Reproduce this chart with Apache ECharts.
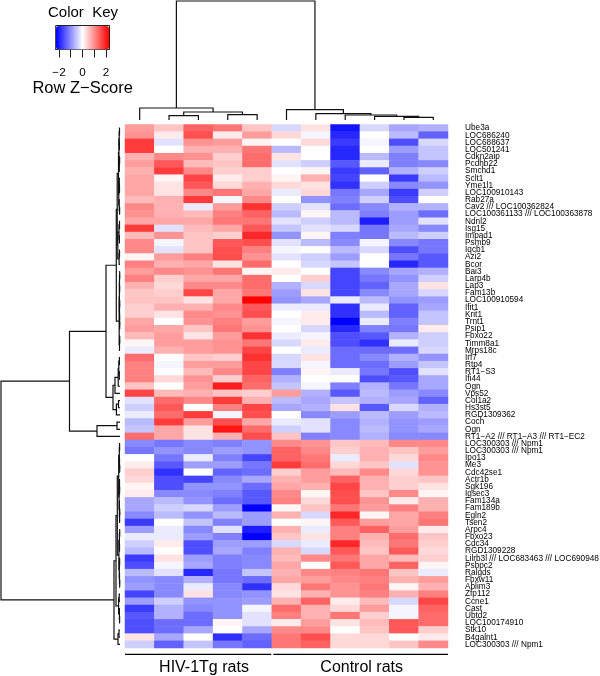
<!DOCTYPE html>
<html><head><meta charset="utf-8">
<style>html,body{margin:0;padding:0;background:#fff}#c{width:600px;height:676px}</style>
<script src="https://cdn.jsdelivr.net/npm/echarts@6/dist/echarts.min.js"></script>
</head><body><div id="c"></div>
<script>
const sampleLabels = ['S1','S2','S3','S4','S5','S6','S7','S8','S9','S10','S11'];
const geneLabels = ['Ube3a','LOC686240','LOC688637','LOC501241','Cdkn2aip','Pcdhb22','Smchd1','Sclt1','Yme1l1','LOC100910143','Rab27a','Cav2 /// LOC100362824','LOC100361133 /// LOC100363878','Ndnl2','Isg15','Impad1','Psmb9','Iqcb1','Azi2','Bcor','Bai3','Larp4b','Lap3','Fam13b','LOC100910594','Ifit1','Krit1','Trnt1','Psip1','Fbxo22','Timm8a1','Mrps18c','Irf7','Rtp4','RT1\u2212S3','Ifi44','Ogn','Vps52','Col1a2','Hs3st5','RGD1309362','Coch','Ogn','RT1\u2212A2 /// RT1\u2212A3 /// RT1\u2212EC2','LOC300303 /// Npm1','LOC300303 /// Npm1','Ipo13','Me3','Cdc42se1','Actr1b','Sgk196','Igsec3','Fam134a','Fam189b','Egln2','Tsen2','Arpc4','Fbxo23','Cdc34','RGD1309228','Lilrb3l /// LOC683463 /// LOC690948','Psbpc2','Ralgds','Fbxw11','Ablim3','Zfp112','Ccne1','Cast','Ubtd2','LOC100174910','Stk10','B4galnt1','LOC300303 /// Npm1'];
const zScores = [
[1.0,0.6,1.6,1.4,0.6,-0.4,0.3,-2.4,-0.4,-0.9,-0.8],
[1.1,0.2,1.8,0.2,1.0,0.4,-0.1,-2.2,0,-0.7,-1.6],
[2.0,-0.3,1.1,1.0,0.1,0,0.4,-2.0,-0.1,-1.8,-0.4],
[2.0,0,0.8,0.8,1.4,-0.7,0,-2.2,0,-1.0,-0.6],
[0.8,1.2,1.1,0.5,1.5,0.3,0,-2.2,-0.7,-1.3,-0.6],
[1.0,1.7,0.7,0.6,1.5,-0.3,-0.5,-1.7,-0.2,-1.3,-1.2],
[0.8,2.0,1.2,0.5,0.5,0,0.1,-2.0,-1.6,-0.8,-0.5],
[0.9,0.1,1.9,0.2,0.5,0.1,0.8,-1.9,0,-2.0,-0.7],
[0.9,0.3,1.7,0.4,0.8,0.4,0.3,-2.1,-0.5,-1.2,-1.1],
[0.9,0.3,1.2,1.4,0.9,-0.2,0.4,-1.4,-0.9,-2.0,-0.5],
[0.7,0.8,2.0,-0.1,1.2,0,-1.1,-1.3,-0.5,-1.8,0],
[1.2,0.8,-0.2,1.0,2.1,-0.5,-0.3,-1.5,-1.2,-0.8,-0.8],
[1.1,0.8,0.7,1.3,1.6,-0.7,0.1,-0.7,-1.3,-1.0,-1.5],
[0.9,0.9,0.9,1.4,1.4,-0.3,-0.5,-0.7,-2.3,-1.0,-0.3],
[2.0,-0.3,0.7,0.9,1.7,-0.6,-0.3,-0.4,-1.4,-0.9,-1.2],
[0.7,1.1,0.6,0.5,2.2,-1.1,0.1,-1.3,-1.4,-0.7,-0.5],
[1.2,-0.1,0.6,1.7,1.8,-0.3,-0.7,-1.2,-0.1,-1.2,-1.4],
[1.2,-0.3,0.6,1.8,1.3,-0.1,0,-0.7,-0.4,-1.8,-1.4],
[0.1,1.0,1.3,1.8,1.1,-0.3,-0.5,-1.0,0,-1.4,-1.7],
[1.3,0.8,0.9,0.3,1.5,0,-0.4,-0.6,0,-2.2,-1.7],
[1.0,1.2,1.1,1.4,0.1,0.2,0,-1.9,-1.2,-0.9,-0.8],
[1.3,0.5,0.9,0.9,1.5,0,0.5,-1.9,-1.4,-1.1,-0.5],
[0.8,0.4,1.2,1.2,1.5,-0.8,-0.4,-1.9,-1.6,-0.9,0.3],
[0.6,0.5,1.9,0.9,1.4,-1.0,0.3,-1.9,-1.2,-0.9,-0.4],
[0.6,0.6,0.3,0.9,2.6,-1.1,-0.9,-0.2,-0.7,-1.1,-1.0],
[0.5,0.8,0.8,1.2,1.7,-0.2,-0.2,-2.1,-0.2,-1.6,-0.9],
[0.5,0.3,1.2,1.1,1.8,0,0.2,-2.1,-0.7,-1.6,-0.6],
[0.9,0,1.1,1.3,1.0,-0.1,0.2,-2.6,-0.2,-1.3,-0.6],
[1.0,0.9,0.6,1.4,1.1,0,-0.4,-2.2,-1.3,-1.4,0.2],
[0.7,1.0,0.3,1.0,2.1,-0.2,-0.1,-1.8,-1.7,-0.8,-0.5],
[0.1,1.0,1.0,1.1,1.4,-0.4,0.2,-1.8,-2.1,-0.2,-0.5],
[-0.2,0.8,1.0,1.1,1.9,0,-0.2,-1.5,-1.5,-1.5,-0.4],
[1.5,0,0.6,0.5,2.1,-0.4,0.3,-1.5,-1.2,-0.8,-1.1],
[1.3,-0.1,1.0,1.0,1.9,-0.4,-0.1,-1.5,-1.5,-1.0,-0.6],
[1.3,0,0.7,1.2,1.9,-1.3,0.1,-0.2,-1.4,-1.8,-0.3],
[1.3,0.4,1.1,0.5,1.6,-0.8,0,0,-1.8,-1.7,-0.9],
[0.6,0,1.0,2.3,1.5,-0.6,-0.1,-1.3,-0.8,-1.4,-0.9],
[1.9,0.7,0.8,0.6,0.5,1.0,-0.8,-1.7,-0.7,-1.0,-1.2],
[-0.3,1.5,1.2,2.0,0.8,-0.7,-0.9,-0.6,-0.8,-0.9,-1.6],
[-0.5,1.7,0,1.3,1.9,-0.9,-0.8,0.3,-1.7,-0.4,-0.8],
[-0.2,1.5,2.0,-0.1,1.8,0,-1.2,-1.0,-0.7,-1.0,-0.7],
[-0.7,2.0,1.0,1.8,0.9,-0.2,-0.3,-1.2,-0.8,-1.1,-1.0],
[-0.6,0.9,0.3,2.4,1.5,-0.5,-0.3,-1.2,-0.7,-1.1,-0.9],
[1.5,0.9,0.3,0.8,1.8,0.6,-1.3,-1.2,-0.8,-1.2,-1.2],
[-1.2,-1.4,-1.2,-1.3,-1.1,1.2,1.1,0.6,0.7,1.2,1.2],
[-1.4,-1.1,-1.2,-1.0,-1.1,1.6,1.2,0.5,0.8,0.6,1.0],
[0,-1.4,-0.2,-1.3,-1.9,1.6,1.4,-0.2,0.8,0.4,1.2],
[0.2,-1.7,-1.0,-1.0,-1.4,2.0,1.5,0.4,0.6,-0.3,1.1],
[0.5,-2.1,0,-1.6,-1.5,0.5,1.0,0.7,1.2,0.4,1.1],
[0.4,-1.8,-1.9,-1.2,-0.9,0.8,1.0,1.6,0.8,0.5,0.6],
[0.1,-1.8,-1.1,-1.1,-1.5,0.9,0.8,1.9,0.8,0.5,0.3],
[0.2,-1.2,-1.2,-1.3,-1.7,1.2,0.1,1.8,0.6,1.2,0.1],
[-0.9,-0.7,-1.1,-1.5,-1.7,1.3,0.4,1.8,1.1,0.2,0.8],
[-0.9,-0.5,-0.4,-1.0,-2.6,0.1,0.6,1.4,1.0,1.3,0.8],
[-1.2,-0.7,-1.1,-0.7,-1.0,0.8,-0.4,2.2,0.1,0.9,1.3],
[-2.0,0,-0.6,-1.3,-1.0,0,0.1,1.7,1.0,0.9,1.4],
[-1.0,-0.2,-1.2,-0.3,-2.3,0.8,-0.2,1.3,1.6,1.0,0.2],
[-0.2,-0.2,-1.0,-1.3,-2.6,0.6,0.3,1.3,0.8,1.5,0.6],
[-0.5,0.2,-1.8,-1.0,-1.0,-0.4,-0.2,2.2,0.7,1.4,0.5],
[-0.7,0,-1.8,-0.9,-1.3,0.8,-0.4,1.7,0.6,1.7,0.4],
[-2.0,0.3,-1.0,-1.3,-1.2,0.7,1.2,1.4,0.9,0.7,0.5],
[-1.8,-0.1,-0.9,-1.3,-1.2,0.9,0,1.7,0.9,1.6,0.1],
[-0.7,-0.3,-2.2,-1.4,-0.6,0.8,1.2,1.3,1.4,0.6,-0.2],
[-1.1,-1.2,-0.8,-1.4,-1.5,0.9,1.0,1.2,1.3,0.8,1.0],
[-1.0,-1.2,-0.2,-1.2,-2.1,0.4,1.4,1.1,1.4,0.1,0.8],
[-1.9,-1.2,0.3,-1.2,-1.1,0.3,0.8,1.1,1.3,0.8,1.3],
[-1.0,-0.5,-1.1,-1.1,-1.0,0.8,1.6,0.2,0.7,-0.4,1.9],
[-2.0,-0.8,-1.2,-1.1,-0.1,1.5,0.8,0.4,1.0,-0.1,1.6],
[-1.7,-0.8,-1.5,-1.1,-0.3,1.3,0.8,1.4,0.5,-0.1,1.5],
[-1.8,-1.5,-1.5,0.1,-0.3,0.2,1.0,0.3,0.7,1.7,1.5],
[-1.8,-1.5,-0.9,0,-0.9,1.2,1.2,0,0.6,1.7,0.5],
[0.3,-0.9,0,-2.1,-1.5,1.4,1.8,0.4,0.4,0,0.2],
[-0.5,-1.6,-0.6,-1.4,-1.6,1.4,1.6,0.4,0.4,0.6,1.2]
];
// dendrograms as nested [mergeHeight, left, right]; plain numbers are leaves (1-based)
const colTree = [119,[12,1,[8,[4.3,2,3],[5.3,4,5]]],[10.3,6,[6.3,7,[5,8,[3.7,9,[2.7,10,11]]]]]];
const rowTree = [119,
 [50.5,
  [14,
   [3.7,
    [2.8,
     [1.5,[1.1,[0.8,[0.5,1,2],[0.6,3,4]],[0.7,[0.4,5,6],7]],[1.2,[0.7,8,[0.5,9,10]],[0.8,11,[0.4,12,13]]]],
     [2.2,[1.0,[0.5,14,15],[0.6,16,17]],[0.9,[0.5,18,19],20]]],
    [0.8,[0.6,[0.5,[0.3,21,22],[0.4,23,24]],[0.5,[0.3,25,26],[0.4,27,[0.3,28,29]]]],[0.5,[0.3,30,31],32]]],
   [7,
    [5,[1.8,[1.2,[0.6,33,34],[0.7,35,36]],37],38],
    [3.6,[1.5,39,40],41]]],
  [23,[3,42,43],44]],
 [6,
  [4,
   [2.7,
    [1.3,[0.7,[0.4,45,46],[0.5,47,[0.3,48,49]]],[0.9,[0.5,50,[0.4,51,52]],[0.6,53,[0.4,[0.3,54,55],56]]]],
    [1.1,[0.6,[0.3,57,58],[0.5,59,60]],[0.7,[0.4,61,62],[0.5,63,[0.3,64,65]]]]],
   [1.4,[0.8,66,67],[0.6,68,[0.4,69,70]]]],
  [2,[1,71,72],73]]];
const groupNames = ['HIV-1Tg rats','Control rats'];
const groupSpans = [[0,4.98],[5.05,11]];
const groupLabelAt = [2.69,8.06];
const keyTicks = [-2,-1,0,1,2];
const keyLabels = [-2,0,2];

const FONT = '"Liberation Sans", Arial, sans-serif';
function segments(tree){
  const segs=[];
  (function walk(n){
    if(typeof n==='number') return {pos:n-0.5,h:0};
    const a=walk(n[1]), b=walk(n[2]);
    segs.push([a.pos,a.h,n[0],b.pos,b.h]);
    return {pos:(a.pos+b.pos)/2,h:n[0]};
  })(tree);
  return segs;
}
const LINE={stroke:'#111',lineWidth:1.2,fill:null};
function treeItem(horizontalLeaves){
  return function(p,api){
    const p1=api.value(0),h1=api.value(1),h=api.value(2),p2=api.value(3),h2=api.value(4);
    const c=(pos,ht)=>horizontalLeaves?api.coord([ht,pos]):api.coord([pos,ht]);
    return {type:'polyline',shape:{points:[c(p1,h1),c(p1,h),c(p2,h),c(p2,h2)]},style:LINE,silent:true};
  };
}
const cells=[];
zScores.forEach((r,i)=>r.forEach((v,j)=>cells.push([j,i,v])));
const bare={show:false};
const chart=echarts.init(document.getElementById('c'),null,{renderer:'canvas'});
chart.setOption({
  animation:false,
  backgroundColor:'#fff',
  textStyle:{fontFamily:FONT,color:'#000'},
  title:[{text:'Color  Key',left:83,top:5,textAlign:'center',padding:0,textStyle:{fontFamily:FONT,fontSize:15,fontWeight:'normal',color:'#000'}}],
  grid:[
    {left:125,top:124.5,width:323,height:523.5,outerBoundsMode:'none'},
    {left:125,top:1,width:323,height:119,outerBoundsMode:'none'},
    {left:1,top:124.5,width:119,height:523.5,outerBoundsMode:'none'},
    {left:55.7,top:25.5,width:53.8,height:24,show:true,borderColor:'#222',borderWidth:1,backgroundColor:'transparent',outerBoundsMode:'none'},
    {left:125,top:654.3,width:323,height:1,outerBoundsMode:'none'}
  ],
  xAxis:[
    {gridIndex:0,type:'category',data:sampleLabels,axisLine:bare,axisTick:bare,axisLabel:bare,splitLine:bare},
    {gridIndex:1,type:'value',min:0,max:11,axisLine:bare,axisTick:bare,axisLabel:bare,splitLine:bare},
    {gridIndex:2,type:'value',min:0,max:119,inverse:true,axisLine:bare,axisTick:bare,axisLabel:bare,splitLine:bare},
    {gridIndex:3,type:'value',min:-2.28,max:2.3,position:'bottom',
      axisLine:{show:true,onZero:false,lineStyle:{color:'#222',width:1}},
      axisTick:{show:true,length:8,lineStyle:{color:'#222',width:1},customValues:keyTicks},
      axisLabel:{show:true,margin:17,fontSize:11.7,color:'#000',fontFamily:FONT,customValues:keyLabels,formatter:v=>String(v).replace('-','\u2212')},
      splitLine:bare,
      name:'Row Z\u2212Score',nameLocation:'middle',nameGap:30,nameTextStyle:{fontSize:16.5,color:'#000',fontFamily:FONT}},
    {gridIndex:4,type:'value',min:0,max:11,axisLine:bare,axisTick:bare,splitLine:bare,
      axisLabel:{show:true,margin:4,fontSize:16,color:'#000',fontFamily:FONT,customValues:groupLabelAt,
        formatter:v=>groupNames[groupLabelAt.indexOf(v)]}}
  ],
  yAxis:[
    {gridIndex:0,type:'category',data:geneLabels,inverse:true,position:'right',axisLine:bare,axisTick:bare,splitLine:bare,
      axisLabel:{show:true,interval:0,margin:17,fontSize:8.25,color:'#000',fontFamily:FONT,align:'left'}},
    {gridIndex:1,type:'value',min:0,max:119,axisLine:bare,axisTick:bare,axisLabel:bare,splitLine:bare},
    {gridIndex:2,type:'value',min:0,max:73,inverse:true,axisLine:bare,axisTick:bare,axisLabel:bare,splitLine:bare},
    {gridIndex:3,type:'value',min:0,max:1,axisLine:bare,axisTick:bare,axisLabel:bare,splitLine:bare},
    {gridIndex:4,type:'value',min:0,max:1,axisLine:bare,axisTick:bare,axisLabel:bare,splitLine:bare}
  ],
  visualMap:[{
    type:'continuous',seriesIndex:0,min:-2.6,max:2.6,orient:'horizontal',left:56,top:26,padding:0,
    itemWidth:23.5,itemHeight:53,text:null,showLabel:false,calculable:false,hoverLink:false,
    inRange:{color:['#0000ff','#ffffff','#ff0000']}
  }],
  series:[
    {type:'heatmap',xAxisIndex:0,yAxisIndex:0,data:cells,progressive:0,itemStyle:{borderWidth:0}},
    {type:'custom',xAxisIndex:1,yAxisIndex:1,data:segments(colTree),renderItem:treeItem(false),clip:false,silent:true},
    {type:'custom',xAxisIndex:2,yAxisIndex:2,data:segments(rowTree),renderItem:treeItem(true),clip:false,silent:true},
    {type:'custom',xAxisIndex:4,yAxisIndex:4,data:groupSpans,clip:false,silent:true,
      renderItem:(p,api)=>({type:'line',shape:{x1:api.coord([api.value(0),0])[0],y1:api.coord([0,1])[1],x2:api.coord([api.value(1),0])[0],y2:api.coord([0,1])[1]},style:{stroke:'#000',lineWidth:1.2}})}
  ]
});
</script></body></html>
